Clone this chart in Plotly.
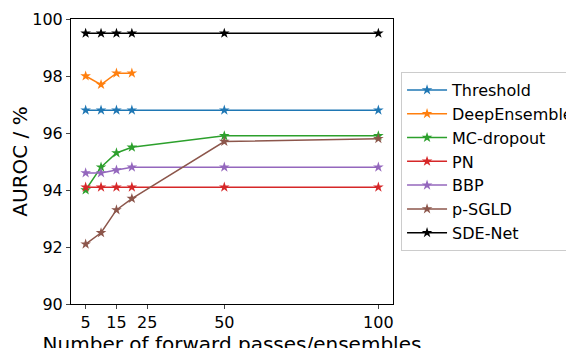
import plotly.graph_objects as go

x_full = [5, 10, 15, 20, 50, 100]
x_ens = [5, 10, 15, 20]

threshold = [96.8, 96.8, 96.8, 96.8, 96.8, 96.8]
deep_ensemble = [98.0, 97.7, 98.1, 98.1]
mc_dropout = [94.0, 94.8, 95.3, 95.5, 95.9, 95.9]
pn = [94.1, 94.1, 94.1, 94.1, 94.1, 94.1]
bbp = [94.6, 94.6, 94.7, 94.8, 94.8, 94.8]
psgld = [92.1, 92.5, 93.3, 93.7, 95.7, 95.8]
sde_net = [99.5, 99.5, 99.5, 99.5, 99.5, 99.5]

x_ticks = [5, 15, 25, 50, 100]
y_ticks = [90, 92, 94, 96, 98, 100]

series = [
    ("Threshold", x_full, threshold, "#1f77b4"),
    ("DeepEnsemble", x_ens, deep_ensemble, "#ff7f0e"),
    ("MC-dropout", x_full, mc_dropout, "#2ca02c"),
    ("PN", x_full, pn, "#d62728"),
    ("BBP", x_full, bbp, "#9467bd"),
    ("p-SGLD", x_full, psgld, "#8c564b"),
    ("SDE-Net", x_full, sde_net, "#000000"),
]

fig = go.Figure()
for name, xs, ys, color in series:
    fig.add_trace(go.Scatter(
        x=xs, y=ys, name=name, mode="lines+markers",
        line=dict(color=color, width=1.5),
        marker=dict(symbol="star", size=8, color=color, line=dict(width=0)),
    ))

font = "DejaVu Sans, sans-serif"
fig.update_layout(
    width=574, height=348,
    margin=dict(l=63, r=189, t=11, b=52, autoexpand=False),
    paper_bgcolor="white", plot_bgcolor="white",
    font=dict(family=font, color="black"),
    showlegend=True,
    legend=dict(
        x=1.025, y=0.814, xanchor="left", yanchor="top",
        bordercolor="#cccccc", borderwidth=1,
        font=dict(size=16, family=font),
        bgcolor="white", itemwidth=40,
    ),
    xaxis=dict(
        range=[0.25, 104.75], tickvals=x_ticks, ticks="outside", ticklen=4,
        tickfont=dict(size=16), showgrid=False, zeroline=False,
        showline=True, linecolor="black", linewidth=1, mirror=True,
        title=dict(text="Number of forward passes/ensembles", font=dict(size=20), standoff=0),
    ),
    yaxis=dict(
        range=[90, 100], tickvals=y_ticks, ticks="outside", ticklen=4,
        tickfont=dict(size=16), showgrid=False, zeroline=False,
        showline=True, linecolor="black", linewidth=1, mirror=True,
        title=dict(text="AUROC / %", font=dict(size=20), standoff=2),
    ),
)

fig.write_html("out.html")
